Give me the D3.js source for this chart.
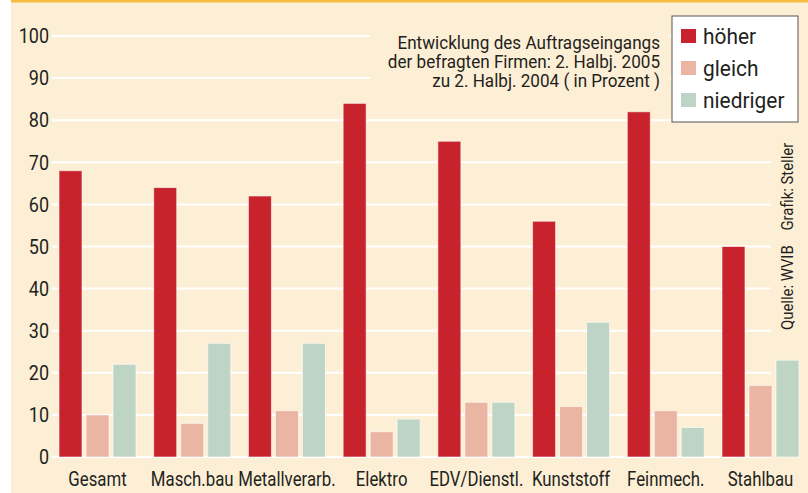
<!DOCTYPE html>
<html>
<head>
<meta charset="utf-8">
<script src="https://cdn.jsdelivr.net/npm/d3@7"></script>
<style>
  body { margin: 0; background: #fff; }
  svg text { font-family: "Roboto", "Noto Sans", sans-serif; fill: #231f20; }
</style>
</head>
<body>
<div class="chart"></div>
<script>
const categories = ["Gesamt", "Masch.bau", "Metallverarb.", "Elektro", "EDV/Dienstl.", "Kunststoff", "Feinmech.", "Stahlbau"];
const series = ["höher", "gleich", "niedriger"];
const hoeher = [68, 64, 62, 84, 75, 56, 82, 50];
const gleich = [10, 8, 11, 6, 13, 12, 11, 17];
const niedriger = [22, 27, 27, 9, 13, 32, 7, 23];
const yTicks = [0, 10, 20, 30, 40, 50, 60, 70, 80, 90, 100];
const colors = ["#c8222c", "#ebb5a4", "#bed4c5"];
const titleLines = ["Entwicklung des Auftragseingangs", "der befragten Firmen: 2. Halbj. 2005", "zu 2. Halbj. 2004 ( in Prozent )"];

const width = 808, height = 493;
const values = [hoeher, gleich, niedriger];
const data = categories.map((c, i) => ({cat: c, vals: series.map((s, j) => ({key: s, value: values[j][i], color: colors[j]}))}));

// the original font is a condensed sans, so squeeze text horizontally
const squeeze = (x, y, s) => `translate(${x},${y}) scale(${s},1)`;

const svg = d3.select('.chart')
    .append('svg')
    .attr('width', width)
    .attr('height', height);

// background
svg.append('rect')
    .attr('x', 11).attr('y', 0)
    .attr('width', width - 11).attr('height', height)
    .attr('fill', '#fdefd5');
svg.append('rect')
    .attr('x', 11).attr('y', 0)
    .attr('width', width - 11).attr('height', 2.5)
    .attr('fill', '#f6bd45');

const yScale = d3.scaleLinear()
    .domain([0, 100])
    .range([457, 36]);

const xScale = d3.scaleBand()
    .domain(categories)
    .range([59, 799])
    .paddingInner(0.187)
    .paddingOuter(0);

const xInner = d3.scaleBand()
    .domain(series)
    .range([0, xScale.bandwidth()])
    .paddingInner(0.148);

// grid
svg.append('g')
    .selectAll('line')
    .data(yTicks)
    .join('line')
    .attr('x1', 52).attr('x2', 771)
    .attr('y1', d => yScale(d)).attr('y2', d => yScale(d))
    .attr('stroke', '#fff')
    .attr('stroke-width', 2);

// y axis labels
svg.append('g')
    .selectAll('text')
    .data(yTicks)
    .join('text')
    .attr('transform', d => squeeze(49, yScale(d), 0.9))
    .attr('dy', '0.36em')
    .attr('text-anchor', 'end')
    .attr('font-size', 20)
    .text(d => d);

// title with background covering grid
svg.append('rect')
    .attr('x', 370).attr('y', 24)
    .attr('width', 300).attr('height', 74)
    .attr('fill', '#fdefd5');
svg.append('g')
    .selectAll('text')
    .data(titleLines)
    .join('text')
    .attr('transform', (d, i) => squeeze(660, 49 + i * 19, 0.95))
    .attr('text-anchor', 'end')
    .attr('font-size', 18)
    .text(d => d);

// bars
const groups = svg.append('g')
    .selectAll('g')
    .data(data)
    .join('g')
    .attr('transform', d => `translate(${xScale(d.cat)},0)`);

groups.selectAll('rect')
    .data(d => d.vals)
    .join('rect')
    .attr('x', d => xInner(d.key))
    .attr('y', d => yScale(d.value))
    .attr('width', xInner.bandwidth())
    .attr('height', d => yScale(0) - yScale(d.value))
    .attr('fill', d => d.color)
    .attr('stroke', '#fff')
    .attr('stroke-opacity', 0.6)
    .attr('stroke-width', 1);

// x axis labels
svg.append('g')
    .selectAll('text')
    .data(categories)
    .join('text')
    .attr('transform', d => squeeze(xScale(d) + xScale.bandwidth() / 2, 486, 0.8))
    .attr('text-anchor', 'middle')
    .attr('font-size', 21)
    .text(d => d);

// legend
const legend = svg.append('g');
legend.append('rect')
    .attr('x', 672).attr('y', 16)
    .attr('width', 126).attr('height', 106)
    .attr('fill', '#fff')
    .attr('stroke', '#555')
    .attr('stroke-width', 1);
const items = legend.selectAll('g')
    .data(series)
    .join('g')
    .attr('transform', (d, i) => `translate(681,${36 + i * 32})`);
items.append('rect')
    .attr('x', 0).attr('y', -7)
    .attr('width', 15).attr('height', 14)
    .attr('fill', (d, i) => colors[i]);
items.append('text')
    .attr('transform', squeeze(22, 0, 0.95))
    .attr('dy', '0.35em')
    .attr('font-size', 22)
    .text(d => d);

// source
svg.append('text')
    .attr('transform', 'translate(793,330) rotate(-90) scale(0.93,1)')
    .attr('font-size', 16)
    .attr('xml:space', 'preserve')
    .text('Quelle: WVIB    Grafik: Steller');
</script>
</body>
</html>
